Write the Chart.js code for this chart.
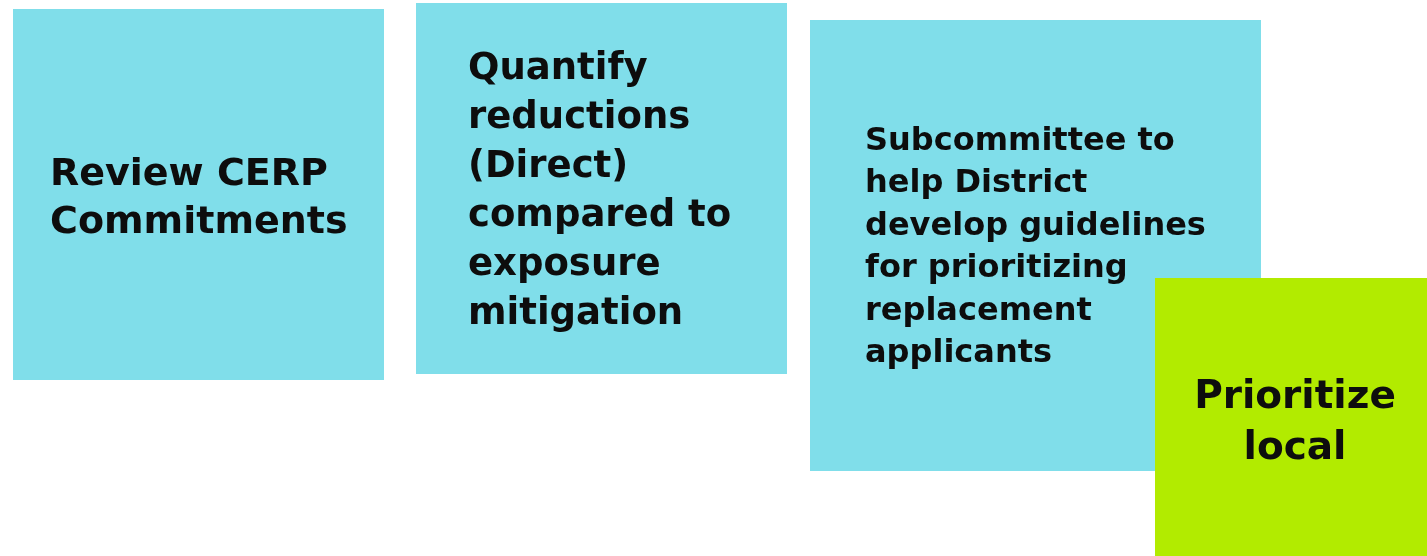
<!DOCTYPE html>
<html>
<head>
<meta charset="utf-8">
<script src="https://cdn.jsdelivr.net/npm/chart.js@4.4.0/dist/chart.umd.min.js"></script>
<style>
  html, body { margin: 0; padding: 0; background: #ffffff; }
  canvas { display: block; }
</style>
</head>
<body>
<canvas id="notes" width="1427" height="556"></canvas>
<script>
// ---- sticky notes: box extents on the board (0..1427 x 0..556) ----
const noteText = [
    ['Review CERP', 'Commitments'],
    ['Quantify', 'reductions', '(Direct)', 'compared to', 'exposure', 'mitigation'],
    ['Subcommittee to', 'help District', 'develop guidelines', 'for prioritizing', 'replacement', 'applicants'],
    ['Prioritize', 'local'],
];
const noteLeft   = [13, 416, 810, 1155];
const noteRight  = [384, 787, 1261, 1427];
const noteTop    = [9, 3, 20, 278];
const noteBottom = [380, 374, 471, 556];

// styling (not data)
const noteColors = ['#80deea', '#80deea', '#80deea', '#b2eb00'];
const textStyle = [
    { size: 38, lh: 48, dx: 37, dy: 176, align: 'left' },
    { size: 37, lh: 49, dx: 52, dy: 75.5, align: 'left' },
    { size: 32, lh: 42.4, dx: 55, dy: 130, align: 'left' },
    { size: 39, lh: 51, dx: 4, dy: 130, align: 'center' },
];

// 緑の付箋を一番上に描く（dataset 0 が最後に描かれる）
const drawOrder = [3, 2, 1, 0];

const datasets = drawOrder.map(i => ({
    label: noteText[i].join(' '),
    data: [
        { x: noteLeft[i], y: noteTop[i] },
        { x: noteRight[i], y: noteTop[i] },
        { x: noteRight[i], y: noteBottom[i] },
        { x: noteLeft[i], y: noteBottom[i] },
        { x: noteLeft[i], y: noteTop[i] },
    ],
    fill: 'shape',
    backgroundColor: noteColors[i],
    borderColor: 'transparent',
    borderWidth: 0,
    pointRadius: 0,
    tension: 0,
}));

const noteLabels = {
    id: 'noteLabels',
    afterDatasetsDraw(chart) {
        const { ctx, scales: { x, y } } = chart;
        ctx.save();
        ctx.fillStyle = '#0d0d0d';
        ctx.textBaseline = 'alphabetic';
        noteText.forEach((lines, i) => {
            const st = textStyle[i];
            const left = x.getPixelForValue(noteLeft[i]);
            const right = x.getPixelForValue(noteRight[i]);
            const top = y.getPixelForValue(noteTop[i]);
            const tx = st.align === 'center' ? (left + right) / 2 + st.dx : left + st.dx;
            ctx.font = `bold ${st.size}px "DejaVu Sans", sans-serif`;
            ctx.textAlign = st.align;
            lines.forEach((ln, k) => ctx.fillText(ln, tx, top + st.dy + k * st.lh));
        });
        ctx.restore();
    }
};

new Chart(document.getElementById('notes'), {
    type: 'line',
    data: { datasets },
    options: {
        responsive: false,
        animation: false,
        layout: { padding: 0 },
        plugins: { legend: { display: false }, tooltip: { enabled: false } },
        scales: {
            x: { type: 'linear', min: 0, max: 1427, display: false },
            y: { type: 'linear', min: 0, max: 556, reverse: true, display: false },
        },
    },
    plugins: [noteLabels],
});
</script>
</body>
</html>
